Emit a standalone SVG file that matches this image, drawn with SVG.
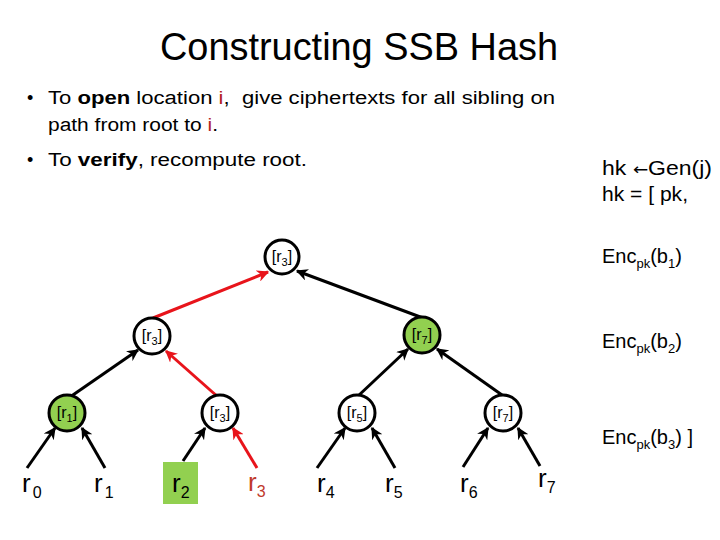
<svg xmlns="http://www.w3.org/2000/svg" width="720" height="540" viewBox="0 0 720 540">
<defs>
<style>
text{font-family:"Liberation Sans","DejaVu Sans",sans-serif;fill:#000}
.t{font-size:38px}
.b{font-size:18px}
.r{font-size:20px}
.n{font-size:16px}
.ns{font-size:11px}
.lf{font-size:26px}
.ls{font-size:16px}
.red{fill:#B22222}
.nd{stroke:#000;stroke-width:3;fill:#fff}
.g{fill:#92D050}
.e{stroke:#000;stroke-width:3;fill:none;marker-end:url(#ab)}
.er{stroke:#E8141B;stroke-width:3;fill:none;marker-end:url(#ar)}
</style>
<marker id="ab" viewBox="0 0 10 10" refX="9" refY="5" markerWidth="4" markerHeight="4" orient="auto" markerUnits="strokeWidth"><path d="M0,0 L10,5 L0,10 L3,5 z" fill="#000"/></marker>
<marker id="ar" viewBox="0 0 10 10" refX="9" refY="5" markerWidth="4" markerHeight="4" orient="auto" markerUnits="strokeWidth"><path d="M0,0 L10,5 L0,10 L3,5 z" fill="#E8141B"/></marker>
</defs>
<rect width="720" height="540" fill="#fff"/>

<g id="title">
<text class="t" x="359" y="60" text-anchor="middle" textLength="398" lengthAdjust="spacingAndGlyphs">Constructing SSB Hash</text>
</g>

<g id="bullets">
<text class="b" x="27" y="104">•</text>
<text class="b" x="48" y="104" xml:space="preserve" textLength="507" lengthAdjust="spacingAndGlyphs">To <tspan font-weight="bold">open</tspan> location <tspan class="red">i</tspan>,  give ciphertexts for all sibling on</text>
<text class="b" x="48" y="131" textLength="170" lengthAdjust="spacingAndGlyphs">path from root to <tspan class="red">i</tspan>.</text>
<text class="b" x="27" y="166">•</text>
<text class="b" x="48" y="166" textLength="259" lengthAdjust="spacingAndGlyphs">To <tspan font-weight="bold">verify</tspan>, recompute root.</text>
</g>

<g id="hk">
<text class="r" x="602" y="175" textLength="110" lengthAdjust="spacingAndGlyphs">hk <tspan style="font-family:'DejaVu Sans',sans-serif" font-size="16">←</tspan>Gen(j)</text>
<text class="r" x="602" y="201" textLength="86" lengthAdjust="spacingAndGlyphs">hk = [ pk,</text>
<text class="r" x="602" y="263">Enc<tspan font-size="13" dy="5">pk</tspan><tspan dy="-5">(b</tspan><tspan font-size="13" dy="5">1</tspan><tspan dy="-5">)</tspan></text>
<text class="r" x="602" y="348">Enc<tspan font-size="13" dy="5">pk</tspan><tspan dy="-5">(b</tspan><tspan font-size="13" dy="5">2</tspan><tspan dy="-5">)</tspan></text>
<text class="r" x="602" y="444">Enc<tspan font-size="13" dy="5">pk</tspan><tspan dy="-5">(b</tspan><tspan font-size="13" dy="5">3</tspan><tspan dy="-5">) ]</tspan></text>
</g>

<g id="connectors">
<line class="er" x1="153" y1="318" x2="268" y2="272"/>
<line class="e" x1="423" y1="318" x2="297" y2="271"/>
<line class="e" x1="70" y1="397" x2="138" y2="350"/>
<line class="er" x1="218" y1="397" x2="166" y2="351"/>
<line class="e" x1="358" y1="396" x2="408" y2="349"/>
<line class="e" x1="502" y1="395" x2="437" y2="349"/>
<line class="e" x1="27" y1="468" x2="55" y2="428"/>
<line class="e" x1="105" y1="468" x2="82" y2="428"/>
<line class="e" x1="183" y1="461" x2="205" y2="428"/>
<line class="er" x1="257" y1="468" x2="233" y2="428"/>
<line class="e" x1="317" y1="468" x2="345" y2="428"/>
<line class="e" x1="395" y1="468" x2="372" y2="428"/>
<line class="e" x1="463" y1="467" x2="488" y2="428"/>
<line class="e" x1="540" y1="466" x2="518" y2="428"/>
</g>

<g id="n-root">
<circle class="nd" cx="282" cy="257" r="17"/>
<text class="n" x="282" y="262" text-anchor="middle">[r<tspan class="ns" dy="4">3</tspan><tspan dy="-4">]</tspan></text>
</g>
<g id="n-l2a">
<circle class="nd" cx="152" cy="336" r="18"/>
<text class="n" x="152" y="341" text-anchor="middle">[r<tspan class="ns" dy="4">3</tspan><tspan dy="-4">]</tspan></text>
</g>
<g id="n-l2b">
<circle class="nd g" cx="422" cy="335" r="18"/>
<text class="n" x="422" y="340" text-anchor="middle">[r<tspan class="ns" dy="4">7</tspan><tspan dy="-4">]</tspan></text>
</g>
<g id="n-l3a">
<circle class="nd g" cx="67" cy="413" r="18"/>
<text class="n" x="67" y="418" text-anchor="middle">[r<tspan class="ns" dy="4">1</tspan><tspan dy="-4">]</tspan></text>
</g>
<g id="n-l3b">
<circle class="nd" cx="220" cy="413" r="18"/>
<text class="n" x="220" y="418" text-anchor="middle">[r<tspan class="ns" dy="4">3</tspan><tspan dy="-4">]</tspan></text>
</g>
<g id="n-l3c">
<circle class="nd" cx="357" cy="413" r="18"/>
<text class="n" x="357" y="418" text-anchor="middle">[r<tspan class="ns" dy="4">5</tspan><tspan dy="-4">]</tspan></text>
</g>
<g id="n-l3d">
<circle class="nd" cx="503" cy="413" r="18"/>
<text class="n" x="503" y="418" text-anchor="middle">[r<tspan class="ns" dy="4">7</tspan><tspan dy="-4">]</tspan></text>
</g>

<g id="leaf-r0"><text class="lf" x="22" y="492">r<tspan class="ls" dx="2" dy="6">0</tspan></text></g>
<g id="leaf-r1"><text class="lf" x="94" y="492">r<tspan class="ls" dx="2" dy="6">1</tspan></text></g>
<g id="leaf-r2"><rect x="163" y="462" width="35" height="42" fill="#92D050"/><text class="lf" x="172" y="492">r<tspan class="ls" dx="0" dy="6">2</tspan></text></g>
<g id="leaf-r3"><text class="lf" x="248" y="491" style="fill:#C0392B">r<tspan class="ls" dx="0" dy="6">3</tspan></text></g>
<g id="leaf-r4"><text class="lf" x="317" y="492">r<tspan class="ls" dx="0" dy="6">4</tspan></text></g>
<g id="leaf-r5"><text class="lf" x="385" y="492">r<tspan class="ls" dx="0" dy="6">5</tspan></text></g>
<g id="leaf-r6"><text class="lf" x="460" y="492">r<tspan class="ls" dx="0" dy="6">6</tspan></text></g>
<g id="leaf-r7"><text class="lf" x="538" y="487">r<tspan class="ls" dx="0" dy="6">7</tspan></text></g>
</svg>
